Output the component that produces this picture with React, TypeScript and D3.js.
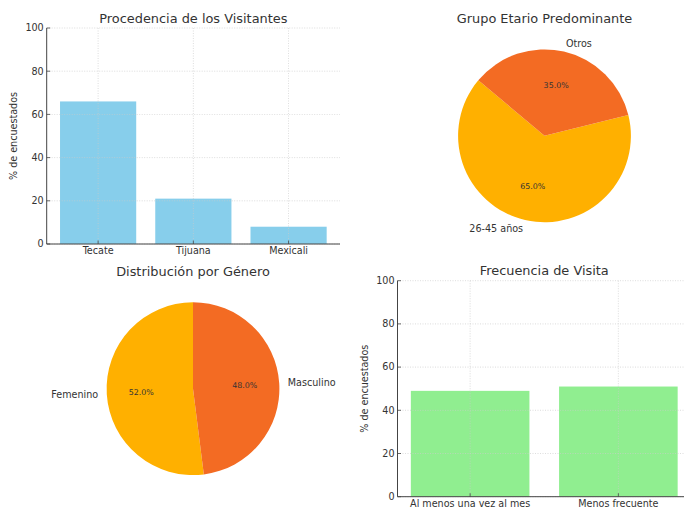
import React from "react";
import * as d3 from "d3";

const origenCats = ["Tecate", "Tijuana", "Mexicali"];
const origenVals = [66, 21, 8];

const edadLabels = ["26-45 años", "Otros"];
const edadVals = [65, 35];

const generoLabels = ["Femenino", "Masculino"];
const generoVals = [52, 48];

const frecCats = ["Al menos una vez al mes", "Menos frecuente"];
const frecVals = [49, 51];

const yTicks = [0, 20, 40, 60, 80, 100];
const pieColors = ["#FFB000", "#F36B23"];

const FONT = "DejaVu Sans, sans-serif";
const TEXT = "#333333";

function BarPanel({ cats, vals, color, title, x0, x1, y0, y1 }: any) {
  const n = cats.length;
  const po = 0.05 * (n - 0.2);
  const x = d3.scaleBand<string>().domain(cats).range([x0, x1]).paddingInner(0.2).paddingOuter(po);
  const y = d3.scaleLinear().domain([0, 100]).range([y1, y0]);
  const grid = "#cccccc";
  return (
    <g>
      {vals.map((v: number, i: number) => (
        <rect key={i} x={x(cats[i])} y={y(v)} width={x.bandwidth()} height={y(0) - y(v)} fill={color} />
      ))}
      {yTicks.map((t) => (
        <line key={"gy" + t} x1={x0} x2={x1} y1={y(t)} y2={y(t)} stroke={grid} strokeWidth={0.8} strokeDasharray="1,1.5" opacity={0.8} />
      ))}
      {cats.map((c: string) => {
        const cx = (x(c) as number) + x.bandwidth() / 2;
        return <line key={"gx" + c} x1={cx} x2={cx} y1={y0} y2={y1} stroke={grid} strokeWidth={0.8} strokeDasharray="1,1.5" opacity={0.8} />;
      })}
      <line x1={x0} x2={x0} y1={y0} y2={y1} stroke="#444" strokeWidth={1} />
      <line x1={x0} x2={x1} y1={y1} y2={y1} stroke="#444" strokeWidth={1} />
      {yTicks.map((t) => (
        <g key={"ty" + t}>
          <line x1={x0} x2={x0 + 3.5} y1={y(t)} y2={y(t)} stroke="#444" strokeWidth={0.8} />
          <text x={x0 - 3} y={y(t)} dy="0.35em" textAnchor="end" fontSize={9.6} fill={TEXT} fontFamily={FONT}>{t}</text>
        </g>
      ))}
      {cats.map((c: string) => {
        const cx = (x(c) as number) + x.bandwidth() / 2;
        return (
          <g key={"tx" + c}>
            <line x1={cx} x2={cx} y1={y1} y2={y1 - 3.5} stroke="#444" strokeWidth={0.8} />
            <text x={cx} y={y1 + 10.3} textAnchor="middle" fontSize={9.6} fill={TEXT} fontFamily={FONT}>{c}</text>
          </g>
        );
      })}
      <text transform={`translate(${x0 - 30},${(y0 + y1) / 2}) rotate(-90)`} textAnchor="middle" fontSize={9.6} fill={TEXT} fontFamily={FONT}>% de encuestados</text>
      <text x={(x0 + x1) / 2} y={y0 - 5.5} textAnchor="middle" fontSize={12.9} fill={TEXT} fontFamily={FONT}>{title}</text>
    </g>
  );
}

function PiePanel({ labels, vals, startDeg, cx, cy, r, title, titleY }: any) {
  const a0 = ((90 - startDeg) * Math.PI) / 180;
  const pie = d3.pie<number>().sort(null).startAngle(a0).endAngle(a0 - 2 * Math.PI);
  const arcs = pie(vals);
  const arc = d3.arc<any>().innerRadius(0).outerRadius(r);
  return (
    <g>
      <text x={cx} y={titleY} textAnchor="middle" fontSize={12.9} fill={TEXT} fontFamily={FONT}>{title}</text>
      {arcs.map((a, i) => (
        <path key={i} d={arc(a) as string} transform={`translate(${cx},${cy})`} fill={pieColors[i]} />
      ))}
      {arcs.map((a, i) => {
        const m = (a.startAngle + a.endAngle) / 2;
        const lx = cx + 1.1 * r * Math.sin(m);
        const ly = cy - 1.1 * r * Math.cos(m);
        const px = cx + 0.6 * r * Math.sin(m);
        const py = cy - 0.6 * r * Math.cos(m);
        const pct = (100 * vals[i]) / d3.sum(vals);
        return (
          <g key={"l" + i}>
            <text x={lx} y={ly} dy="0.35em" textAnchor={Math.sin(m) >= 0 ? "start" : "end"} fontSize={9.6} fill={TEXT} fontFamily={FONT}>{labels[i]}</text>
            <text x={px} y={py} dy="0.35em" textAnchor="middle" fontSize={7.9} fill={TEXT} fontFamily={FONT}>{pct.toFixed(1) + "%"}</text>
          </g>
        );
      })}
    </g>
  );
}

export default function App() {
  return (
    <svg width={684} height={508} style={{ position: "absolute", left: 0, top: 0, background: "#fff" }}>
      <rect width={684} height={508} fill="#fff" />
      <BarPanel cats={origenCats} vals={origenVals} color="#87CEEB" title="Procedencia de los Visitantes" x0={46.7} x1={340} y0={28} y1={244} />
      <PiePanel labels={edadLabels} vals={edadVals} startDeg={140} cx={544.5} cy={135.8} r={86.4} title="Grupo Etario Predominante" titleY={23} />
      <PiePanel labels={generoLabels} vals={generoVals} startDeg={90} cx={193} cy={388.7} r={86.4} title="Distribución por Género" titleY={275.5} />
      <BarPanel cats={frecCats} vals={frecVals} color="#90EE90" title="Frecuencia de Visita" x0={397.5} x1={691} y0={280.7} y1={496.7} />
    </svg>
  );
}
